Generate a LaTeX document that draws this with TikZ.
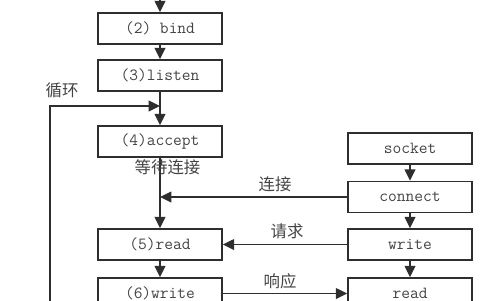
\documentclass[tikz,border=0pt]{standalone}
\usepackage{fontspec}
\newfontfamily\cjk{Noto Sans CJK SC}
\usepackage{xcolor}
\usetikzlibrary{arrows.meta,positioning}
\definecolor{cLine}{HTML}{2E2E2E}
\definecolor{cText}{HTML}{444444}
\tikzset{
  >={Triangle[length=3.4mm,width=3.2mm]},
  stepbox/.style={draw=cLine,line width=1.3pt,minimum width=3.72cm,minimum height=0.93cm,
    inner sep=0pt,text=cText,font=\ttfamily\fontsize{14.5}{16}\selectfont},
  flow/.style={->,cLine,line width=1.3pt},
  tag/.style={text=cText,font=\cjk\fontsize{14}{15}\selectfont,inner sep=0pt},
}
\begin{document}
\begin{tikzpicture}[x=0.03cm,y=-0.03cm]
  \useasboundingbox (0,0) rectangle (480,300);
  \clip (0,0) rectangle (480,300);
  % server side
  \node[stepbox] (bind)   at (160,28.5)  {(2) bind};
  \node[stepbox] (listen) at (160,75.5)  {(3)listen};
  \node[stepbox] (accept) at (160,141.5) {(4)accept};
  \node[stepbox] (sread)  at (160,244.5) {(5)read};
  \node[stepbox] (swrite) at (160,293.5) {(6)write};
  % client side
  \node[stepbox] (socket)  at (410,148.5) {socket};
  \node[stepbox] (connect) at (410,197)   {connect};
  \node[stepbox] (cwrite)  at (410,244.5) {write};
  \node[stepbox] (cread)   at (410,293.5) {read};
  \coordinate (top)    at (160,-5);
  \coordinate (join)   at (160,106);
  \coordinate (loopin) at (50,320);
  % server flow
  \draw[flow] (top) -- (bind);
  \draw[flow] (bind) -- (listen);
  \draw[flow] (listen) -- (accept);
  \draw[flow] (accept) -- (sread);
  \draw[flow] (sread) -- (swrite);
  \draw[flow] (loopin) |- (join);
  % client flow
  \draw[flow] (socket) -- (connect);
  \draw[flow] (connect) -- (cwrite);
  \draw[flow] (cwrite) -- (cread);
  % exchanges
  \draw[flow] (connect.west) -- (connect.west -| accept.south);
  \draw[flow] (cwrite.west) -- (sread.east);
  \draw[flow] (swrite.east) -- (cread.west);
  \node[tag] (loop)    at (62,90)     {循环};
  \node[tag] (waiting) at (167.5,167) {等待连接};
  \node[tag] (conn)    at (275,184)   {连接};
  \node[tag] (req)     at (287,231)   {请求};
  \node[tag] (resp)    at (280,281)   {响应};
\end{tikzpicture}
\end{document}
